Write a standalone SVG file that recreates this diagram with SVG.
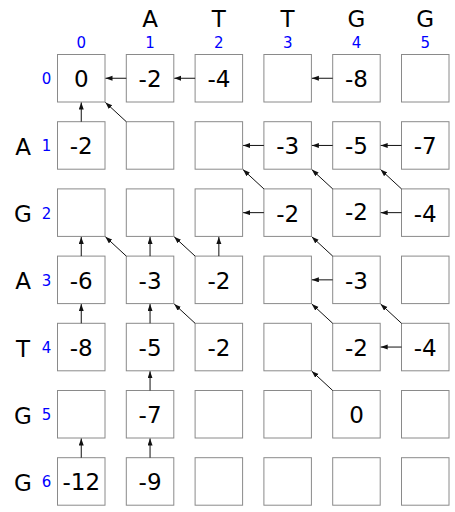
<svg xmlns="http://www.w3.org/2000/svg" width="455" height="512" viewBox="0 0 455 512">
<style>
.box{fill:#fff;stroke:#8a8a8a;stroke-width:1}
.v{font-family:"DejaVu Sans",sans-serif;font-size:23px;text-anchor:middle;fill:#000}
.lt{font-family:"DejaVu Sans",sans-serif;font-size:23px;text-anchor:middle;fill:#000}
.ix{font-family:"DejaVu Sans",sans-serif;font-size:15px;text-anchor:middle;fill:#0000ff}
.a{stroke:#111;stroke-width:1;fill:none;marker-end:url(#ah)}
</style>
<defs>
<marker id="ah" markerUnits="userSpaceOnUse" markerWidth="8" markerHeight="6" refX="7" refY="2.5" orient="auto"><path d="M0,0 L7,2.5 L0,5 z" fill="#111"/></marker>
</defs>
<g id="headers">
<text class="lt" x="150.05" y="27">A</text>
<text class="lt" x="218.85" y="27">T</text>
<text class="lt" x="287.65" y="27">T</text>
<text class="lt" x="356.45" y="27">G</text>
<text class="lt" x="425.25" y="27">G</text>
<text class="ix" x="81.25" y="47.5">0</text>
<text class="ix" x="150.05" y="47.5">1</text>
<text class="ix" x="218.85" y="47.5">2</text>
<text class="ix" x="287.65" y="47.5">3</text>
<text class="ix" x="356.45" y="47.5">4</text>
<text class="ix" x="425.25" y="47.5">5</text>
<text class="lt" x="23" y="154.9">A</text>
<text class="lt" x="23" y="222.1">G</text>
<text class="lt" x="23" y="289.3">A</text>
<text class="lt" x="23" y="356.5">T</text>
<text class="lt" x="23" y="423.7">G</text>
<text class="lt" x="23" y="490.9">G</text>
<text class="ix" x="46.5" y="84.25">0</text>
<text class="ix" x="46.5" y="151.45">1</text>
<text class="ix" x="46.5" y="218.65">2</text>
<text class="ix" x="46.5" y="285.85">3</text>
<text class="ix" x="46.5" y="353.05">4</text>
<text class="ix" x="46.5" y="420.25">5</text>
<text class="ix" x="46.5" y="487.45">6</text>
</g>
<g id="c0-0"><rect class="box" x="57.5" y="54.5" width="47.5" height="47.5"/><text class="v" x="81.25" y="87.25">0</text></g>
<g id="c0-1"><rect class="box" x="126.3" y="54.5" width="47.5" height="47.5"/><text class="v" x="150.05" y="87.25">-2</text></g>
<g id="c0-2"><rect class="box" x="195.1" y="54.5" width="47.5" height="47.5"/><text class="v" x="218.85" y="87.25">-4</text></g>
<g id="c0-3"><rect class="box" x="263.9" y="54.5" width="47.5" height="47.5"/></g>
<g id="c0-4"><rect class="box" x="332.7" y="54.5" width="47.5" height="47.5"/><text class="v" x="356.45" y="87.25">-8</text></g>
<g id="c0-5"><rect class="box" x="401.5" y="54.5" width="47.5" height="47.5"/></g>
<g id="c1-0"><rect class="box" x="57.5" y="121.7" width="47.5" height="47.5"/><text class="v" x="81.25" y="154.45">-2</text></g>
<g id="c1-1"><rect class="box" x="126.3" y="121.7" width="47.5" height="47.5"/></g>
<g id="c1-2"><rect class="box" x="195.1" y="121.7" width="47.5" height="47.5"/></g>
<g id="c1-3"><rect class="box" x="263.9" y="121.7" width="47.5" height="47.5"/><text class="v" x="287.65" y="154.45">-3</text></g>
<g id="c1-4"><rect class="box" x="332.7" y="121.7" width="47.5" height="47.5"/><text class="v" x="356.45" y="154.45">-5</text></g>
<g id="c1-5"><rect class="box" x="401.5" y="121.7" width="47.5" height="47.5"/><text class="v" x="425.25" y="154.45">-7</text></g>
<g id="c2-0"><rect class="box" x="57.5" y="188.9" width="47.5" height="47.5"/></g>
<g id="c2-1"><rect class="box" x="126.3" y="188.9" width="47.5" height="47.5"/></g>
<g id="c2-2"><rect class="box" x="195.1" y="188.9" width="47.5" height="47.5"/></g>
<g id="c2-3"><rect class="box" x="263.9" y="188.9" width="47.5" height="47.5"/><text class="v" x="287.65" y="221.65">-2</text></g>
<g id="c2-4"><rect class="box" x="332.7" y="188.9" width="47.5" height="47.5"/><text class="v" x="356.45" y="219.65">-2</text></g>
<g id="c2-5"><rect class="box" x="401.5" y="188.9" width="47.5" height="47.5"/><text class="v" x="425.25" y="221.65">-4</text></g>
<g id="c3-0"><rect class="box" x="57.5" y="256.1" width="47.5" height="47.5"/><text class="v" x="81.25" y="288.85">-6</text></g>
<g id="c3-1"><rect class="box" x="126.3" y="256.1" width="47.5" height="47.5"/><text class="v" x="150.05" y="288.85">-3</text></g>
<g id="c3-2"><rect class="box" x="195.1" y="256.1" width="47.5" height="47.5"/><text class="v" x="218.85" y="288.85">-2</text></g>
<g id="c3-3"><rect class="box" x="263.9" y="256.1" width="47.5" height="47.5"/></g>
<g id="c3-4"><rect class="box" x="332.7" y="256.1" width="47.5" height="47.5"/><text class="v" x="356.45" y="288.85">-3</text></g>
<g id="c3-5"><rect class="box" x="401.5" y="256.1" width="47.5" height="47.5"/></g>
<g id="c4-0"><rect class="box" x="57.5" y="323.3" width="47.5" height="47.5"/><text class="v" x="81.25" y="356.05">-8</text></g>
<g id="c4-1"><rect class="box" x="126.3" y="323.3" width="47.5" height="47.5"/><text class="v" x="150.05" y="356.05">-5</text></g>
<g id="c4-2"><rect class="box" x="195.1" y="323.3" width="47.5" height="47.5"/><text class="v" x="218.85" y="356.05">-2</text></g>
<g id="c4-3"><rect class="box" x="263.9" y="323.3" width="47.5" height="47.5"/></g>
<g id="c4-4"><rect class="box" x="332.7" y="323.3" width="47.5" height="47.5"/><text class="v" x="356.45" y="356.05">-2</text></g>
<g id="c4-5"><rect class="box" x="401.5" y="323.3" width="47.5" height="47.5"/><text class="v" x="425.25" y="356.05">-4</text></g>
<g id="c5-0"><rect class="box" x="57.5" y="390.5" width="47.5" height="47.5"/></g>
<g id="c5-1"><rect class="box" x="126.3" y="390.5" width="47.5" height="47.5"/><text class="v" x="150.05" y="423.25">-7</text></g>
<g id="c5-2"><rect class="box" x="195.1" y="390.5" width="47.5" height="47.5"/></g>
<g id="c5-3"><rect class="box" x="263.9" y="390.5" width="47.5" height="47.5"/></g>
<g id="c5-4"><rect class="box" x="332.7" y="390.5" width="47.5" height="47.5"/><text class="v" x="356.45" y="423.25">0</text></g>
<g id="c5-5"><rect class="box" x="401.5" y="390.5" width="47.5" height="47.5"/></g>
<g id="c6-0"><rect class="box" x="57.5" y="457.7" width="47.5" height="47.5"/><text class="v" x="81.25" y="490.45">-12</text></g>
<g id="c6-1"><rect class="box" x="126.3" y="457.7" width="47.5" height="47.5"/><text class="v" x="150.05" y="490.45">-9</text></g>
<g id="c6-2"><rect class="box" x="195.1" y="457.7" width="47.5" height="47.5"/></g>
<g id="c6-3"><rect class="box" x="263.9" y="457.7" width="47.5" height="47.5"/></g>
<g id="c6-4"><rect class="box" x="332.7" y="457.7" width="47.5" height="47.5"/></g>
<g id="c6-5"><rect class="box" x="401.5" y="457.7" width="47.5" height="47.5"/></g>
<g id="connectors">
<line class="a" x1="126.3" y1="78.25" x2="105.5" y2="78.25"/>
<line class="a" x1="195.1" y1="78.25" x2="174.3" y2="78.25"/>
<line class="a" x1="332.7" y1="78.25" x2="311.9" y2="78.25"/>
<line class="a" x1="263.9" y1="145.45" x2="243.1" y2="145.45"/>
<line class="a" x1="332.7" y1="145.45" x2="311.9" y2="145.45"/>
<line class="a" x1="401.5" y1="145.45" x2="380.7" y2="145.45"/>
<line class="a" x1="263.9" y1="212.65" x2="243.1" y2="212.65"/>
<line class="a" x1="401.5" y1="212.65" x2="380.7" y2="212.65"/>
<line class="a" x1="332.7" y1="279.85" x2="311.9" y2="279.85"/>
<line class="a" x1="401.5" y1="347.05" x2="380.7" y2="347.05"/>
<line class="a" x1="81.25" y1="121.7" x2="81.25" y2="102.5"/>
<line class="a" x1="81.25" y1="256.1" x2="81.25" y2="236.9"/>
<line class="a" x1="150.05" y1="256.1" x2="150.05" y2="236.9"/>
<line class="a" x1="218.85" y1="256.1" x2="218.85" y2="236.9"/>
<line class="a" x1="81.25" y1="323.3" x2="81.25" y2="304.1"/>
<line class="a" x1="150.05" y1="323.3" x2="150.05" y2="304.1"/>
<line class="a" x1="150.05" y1="390.5" x2="150.05" y2="371.3"/>
<line class="a" x1="81.25" y1="457.7" x2="81.25" y2="438.5"/>
<line class="a" x1="150.05" y1="457.7" x2="150.05" y2="438.5"/>
<line class="a" x1="126.3" y1="121.7" x2="105.4" y2="102.4"/>
<line class="a" x1="263.9" y1="188.9" x2="243" y2="169.6"/>
<line class="a" x1="332.7" y1="188.9" x2="311.8" y2="169.6"/>
<line class="a" x1="401.5" y1="188.9" x2="380.6" y2="169.6"/>
<line class="a" x1="126.3" y1="256.1" x2="105.4" y2="236.8"/>
<line class="a" x1="195.1" y1="256.1" x2="174.2" y2="236.8"/>
<line class="a" x1="332.7" y1="256.1" x2="311.8" y2="236.8"/>
<line class="a" x1="195.1" y1="323.3" x2="174.2" y2="304"/>
<line class="a" x1="332.7" y1="323.3" x2="311.8" y2="304"/>
<line class="a" x1="401.5" y1="323.3" x2="380.6" y2="304"/>
<line class="a" x1="332.7" y1="390.5" x2="311.8" y2="371.2"/>
</g>
</svg>
